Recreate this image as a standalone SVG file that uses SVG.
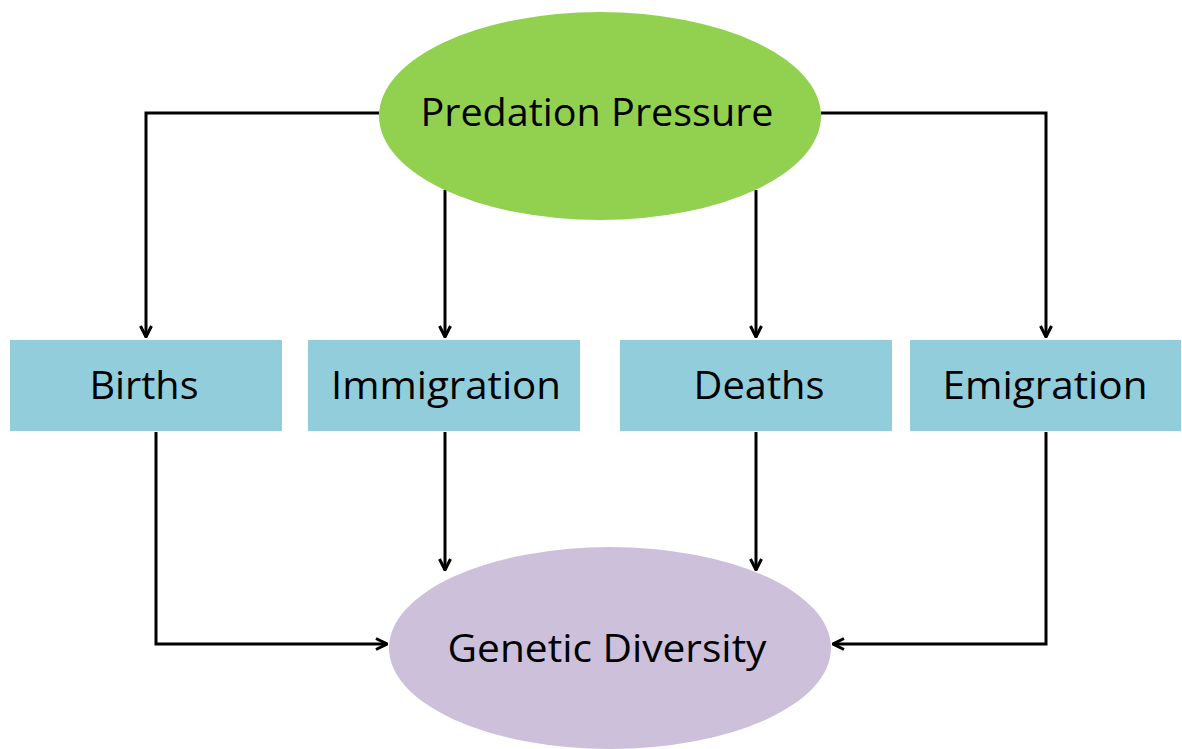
<svg xmlns="http://www.w3.org/2000/svg" width="1182" height="749" viewBox="0 0 1182 749">
<style>
.t{font-family:"Open Sans","Noto Sans",sans-serif;font-size:38px;fill:#000;text-anchor:middle}
.box{fill:#92CDDC}
.c{fill:none;stroke:#000;stroke-width:3}
</style>
<defs>
<marker id="a" viewBox="0 0 14 14" refX="13" refY="7" markerWidth="14" markerHeight="14" markerUnits="userSpaceOnUse" orient="auto">
<path d="M2,1.5 L13,7 L2,12.5" fill="none" stroke="#000" stroke-width="3"/>
</marker>
</defs>
<rect width="1182" height="749" fill="#fff"/>
<g id="connectors">
<path class="c" d="M379,113 H146 V337" marker-end="url(#a)"/>
<path class="c" d="M821,113 H1046 V337" marker-end="url(#a)"/>
<path class="c" d="M445,190 V337" marker-end="url(#a)"/>
<path class="c" d="M756,190 V337" marker-end="url(#a)"/>
<path class="c" d="M156,432 V644 H387" marker-end="url(#a)"/>
<path class="c" d="M445,432 V570" marker-end="url(#a)"/>
<path class="c" d="M756,432 V570" marker-end="url(#a)"/>
<path class="c" d="M1046,432 V644 H833" marker-end="url(#a)"/>
</g>
<g id="predation">
<ellipse cx="600" cy="116" rx="221" ry="104" fill="#92D050"/>
<text class="t" x="597" y="126" textLength="353" lengthAdjust="spacingAndGlyphs">Predation Pressure</text>
</g>
<g id="births">
<rect class="box" x="10" y="340" width="272" height="91"/>
<text class="t" x="144" y="399" textLength="109" lengthAdjust="spacingAndGlyphs">Births</text>
</g>
<g id="immigration">
<rect class="box" x="308" y="340" width="272" height="91"/>
<text class="t" x="446" y="399" textLength="230" lengthAdjust="spacingAndGlyphs">Immigration</text>
</g>
<g id="deaths">
<rect class="box" x="620" y="340" width="272" height="91"/>
<text class="t" x="759" y="399" textLength="131" lengthAdjust="spacingAndGlyphs">Deaths</text>
</g>
<g id="emigration">
<rect class="box" x="910" y="340" width="271" height="91"/>
<text class="t" x="1045" y="399" textLength="205" lengthAdjust="spacingAndGlyphs">Emigration</text>
</g>
<g id="genetic">
<ellipse cx="610" cy="648" rx="221" ry="101" fill="#CCC0DA"/>
<text class="t" x="607" y="662" textLength="319" lengthAdjust="spacingAndGlyphs">Genetic Diversity</text>
</g>
</svg>
